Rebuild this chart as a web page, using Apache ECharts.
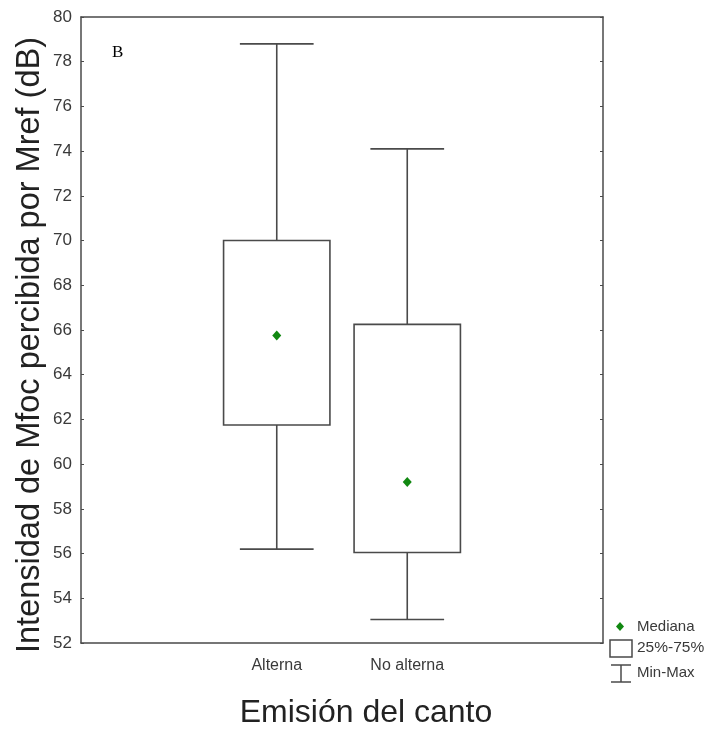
<!DOCTYPE html>
<html><head><meta charset="utf-8">
<script src="https://cdn.jsdelivr.net/npm/echarts@6/dist/echarts.min.js"></script>
<style>html,body{margin:0;padding:0;background:#fff}#c{width:707px;height:732px}</style>
</head><body><div id="c"></div>
<script>
const categories = ['', 'Alterna', 'No alterna', ''];
const groups = ['Alterna', 'No alterna'];
const minVals = [56.2, 53.05];
const q1Vals = [61.75, 56.05];
const medianVals = [65.75, 59.2];
const q3Vals = [70.0, 66.25];
const maxVals = [78.8, 74.1];
const yTicks = {min: 52, max: 80, interval: 2};

const boxData = groups.map((g, i) => [categories.indexOf(g), minVals[i], q1Vals[i], medianVals[i], q3Vals[i], maxVals[i]]);

const lineCol = '#4a4a4a';
const sans = '"Liberation Sans", Arial, sans-serif';
const chart = echarts.init(document.getElementById('c'));

chart.setOption({
  animation: false,
  grid: {left: 81, right: 104, top: 17, bottom: 89, show: false},
  xAxis: [{
    type: 'category', data: categories, boundaryGap: true,
    axisLine: {lineStyle: {color: lineCol, width: 1.5}},
    axisTick: {alignWithLabel: true, inside: true, length: 4, lineStyle: {color: lineCol}},
    axisLabel: {fontFamily: sans, fontSize: 16, color: '#3a3a3a', margin: 15}
  }, {
    type: 'category', data: categories, position: 'top', boundaryGap: true,
    axisLine: {lineStyle: {color: lineCol, width: 1.5}},
    axisTick: {alignWithLabel: true, inside: true, length: 4, lineStyle: {color: lineCol}},
    axisLabel: {show: false}
  }],
  yAxis: [{
    type: 'value', min: yTicks.min, max: yTicks.max, interval: yTicks.interval,
    axisLine: {show: true, lineStyle: {color: lineCol, width: 1.5}},
    axisTick: {show: true, inside: true, length: 3, lineStyle: {color: lineCol}},
    splitLine: {show: false},
    axisLabel: {fontFamily: sans, fontSize: 17, color: '#3a3a3a', margin: 9}
  }, {
    type: 'value', min: yTicks.min, max: yTicks.max, interval: yTicks.interval, position: 'right',
    axisLine: {show: true, lineStyle: {color: lineCol, width: 1.5}},
    axisTick: {show: true, inside: true, length: 3, lineStyle: {color: lineCol}},
    splitLine: {show: false}, axisLabel: {show: false}
  }],
  graphic: [
    {type: 'text', x: 30, y: 345, rotation: Math.PI / 2,
      style: {text: 'Intensidad de Mfoc percibida por Mref (dB)', font: '32.5px ' + sans, fill: '#222', textAlign: 'center', textVerticalAlign: 'middle'}},
    {type: 'text', x: 366, y: 713,
      style: {text: 'Emisión del canto', font: '32px ' + sans, fill: '#222', textAlign: 'center', textVerticalAlign: 'middle'}},
    {type: 'text', left: 112, top: 44, style: {text: 'B', font: '17px "Liberation Serif", "DejaVu Serif", serif', fill: '#000'}},
    {type: 'polygon', shape: {points: [[620, 622], [624, 626.5], [620, 631], [616, 626.5]]}, style: {fill: '#118811'}},
    {type: 'text', x: 637, y: 627, style: {text: 'Mediana', font: '15px ' + sans, fill: '#3a3a3a', textVerticalAlign: 'middle'}},
    {type: 'rect', shape: {x: 610, y: 640, width: 22, height: 17}, style: {fill: '#fff', stroke: lineCol, lineWidth: 1.5}},
    {type: 'text', x: 637, y: 648, style: {text: '25%-75%', font: '15.5px ' + sans, fill: '#3a3a3a', textVerticalAlign: 'middle'}},
    {type: 'line', shape: {x1: 611, y1: 665, x2: 631, y2: 665}, style: {stroke: lineCol, lineWidth: 1.5}},
    {type: 'line', shape: {x1: 621, y1: 665, x2: 621, y2: 682}, style: {stroke: lineCol, lineWidth: 1.5}},
    {type: 'line', shape: {x1: 611, y1: 682, x2: 631, y2: 682}, style: {stroke: lineCol, lineWidth: 1.5}},
    {type: 'text', x: 637, y: 673, style: {text: 'Min-Max', font: '15px ' + sans, fill: '#3a3a3a', textVerticalAlign: 'middle'}}
  ],
  series: [{
    type: 'custom',
    data: boxData,
    encode: {x: 0, y: [1, 2, 3, 4, 5]},
    renderItem: function (params, api) {
      const c = api.value(0);
      const band = api.size([1, 0])[0];
      const pMin = api.coord([c, api.value(1)]);
      const pQ1 = api.coord([c, api.value(2)]);
      const pMed = api.coord([c, api.value(3)]);
      const pQ3 = api.coord([c, api.value(4)]);
      const pMax = api.coord([c, api.value(5)]);
      const x = pMed[0];
      const bw = band * 0.815, cw = band * 0.565;
      const st = {stroke: lineCol, lineWidth: 1.6, fill: null};
      return {type: 'group', children: [
        {type: 'line', shape: {x1: x, y1: pMax[1], x2: x, y2: pQ3[1]}, style: st},
        {type: 'line', shape: {x1: x, y1: pQ1[1], x2: x, y2: pMin[1]}, style: st},
        {type: 'line', shape: {x1: x - cw / 2, y1: pMax[1], x2: x + cw / 2, y2: pMax[1]}, style: st},
        {type: 'line', shape: {x1: x - cw / 2, y1: pMin[1], x2: x + cw / 2, y2: pMin[1]}, style: st},
        {type: 'rect', shape: {x: x - bw / 2, y: pQ3[1], width: bw, height: pQ1[1] - pQ3[1]}, style: {stroke: lineCol, lineWidth: 1.6, fill: '#fff'}},
        {type: 'polygon', shape: {points: [[x, pMed[1] - 5], [x + 4.5, pMed[1]], [x, pMed[1] + 5], [x - 4.5, pMed[1]]]}, style: {fill: '#118811'}}
      ]};
    }
  }]
});
</script></body></html>
